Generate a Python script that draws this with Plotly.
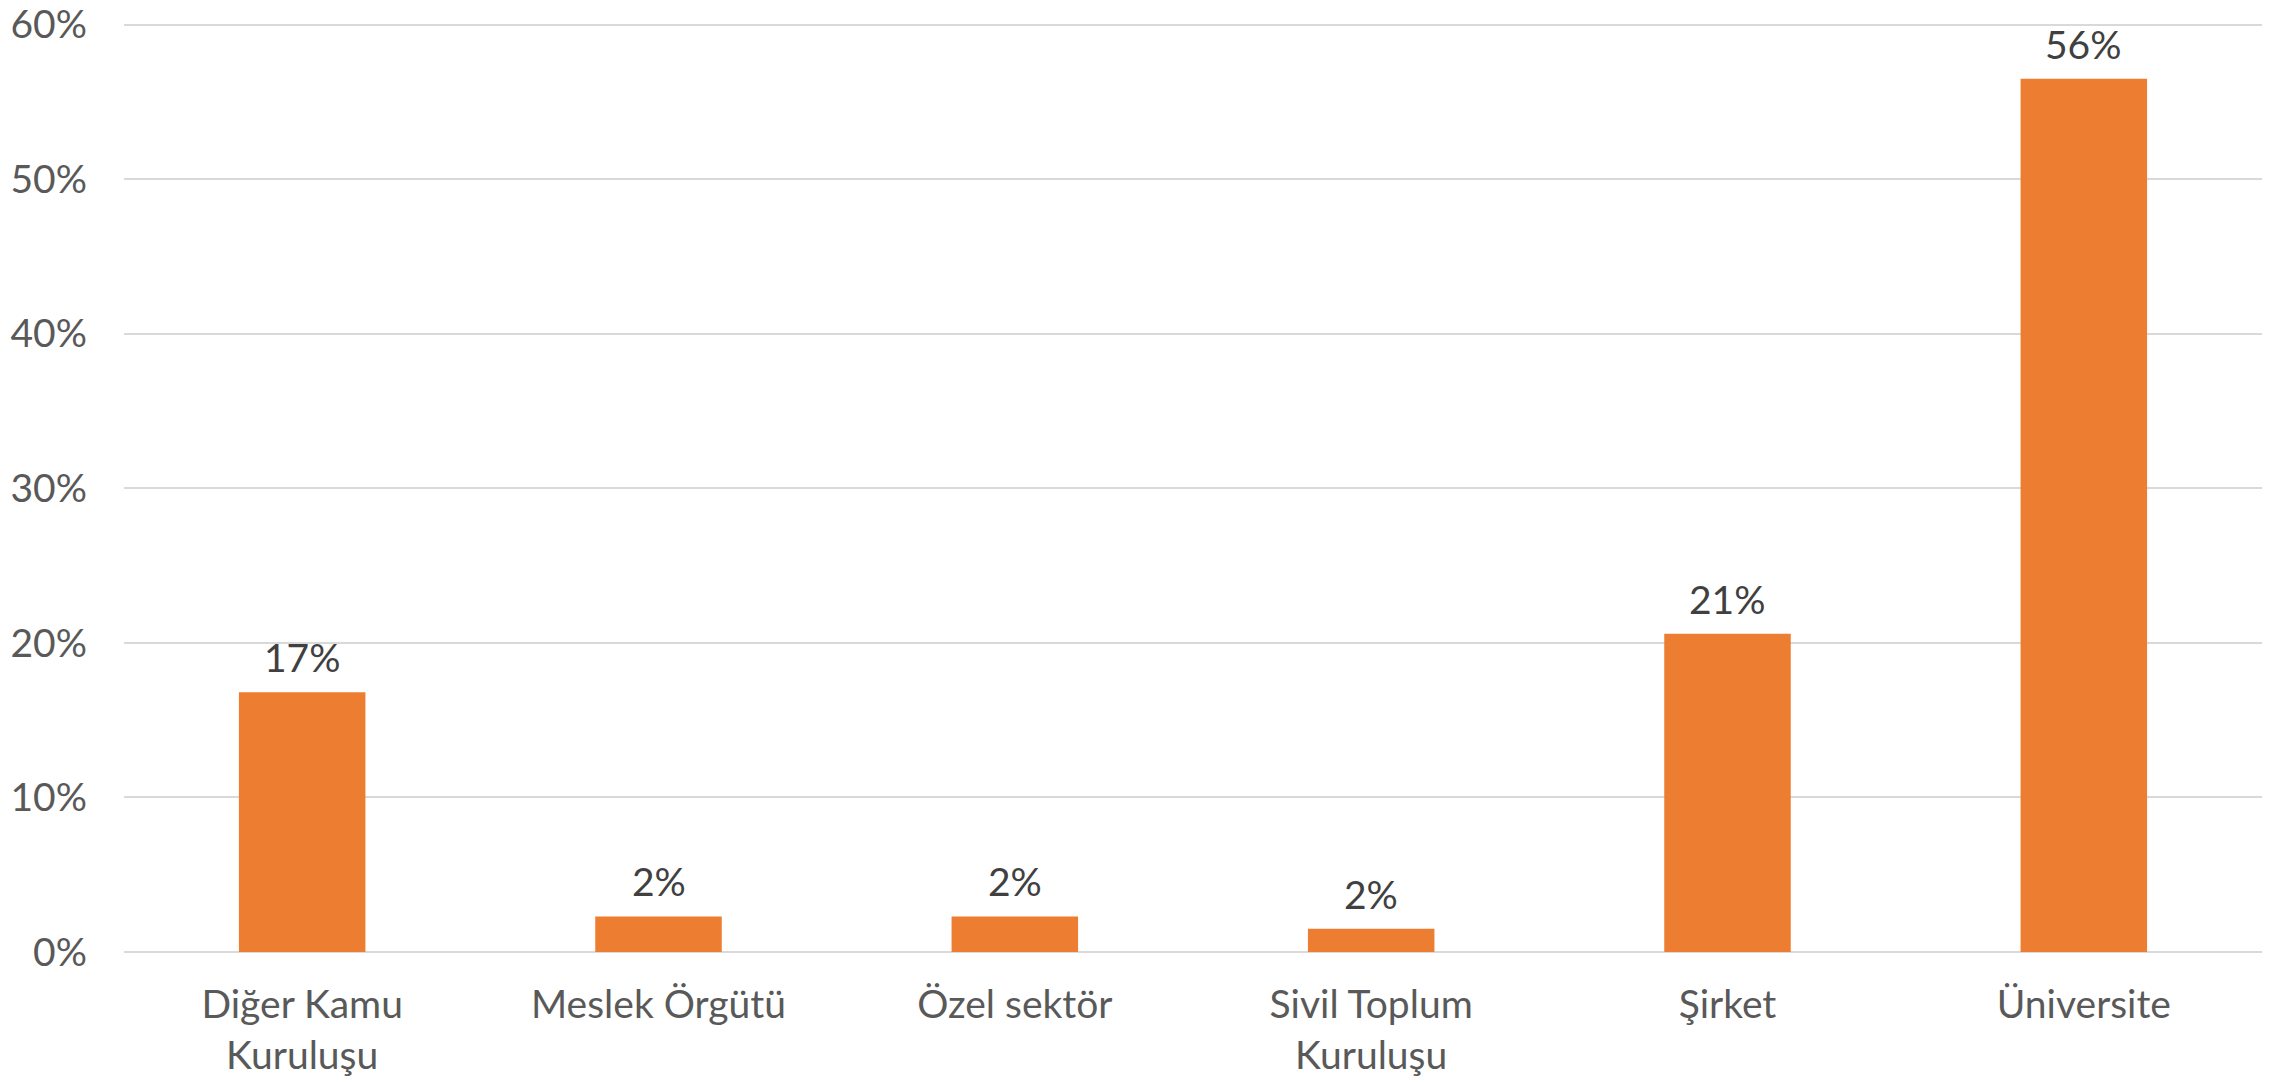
import plotly.graph_objects as go

categories = ["Diğer Kamu<br>Kuruluşu", "Meslek Örgütü", "Özel sektör",
              "Sivil Toplum<br>Kuruluşu", "Şirket", "Üniversite"]
values = [0.168, 0.023, 0.023, 0.015, 0.206, 0.565]
labels = ["17%", "2%", "2%", "2%", "21%", "56%"]

fnt = "Lato, 'Open Sans', sans-serif"

fig = go.Figure(go.Bar(
    x=categories, y=values,
    marker=dict(color="#ED7D31", line=dict(width=0)),
    width=0.355,
))

for c, v, t in zip(categories, values, labels):
    fig.add_annotation(x=c, y=v, text=t, showarrow=False,
                       yanchor="bottom", yshift=10,
                       font=dict(family=fnt, size=39, color="#404040"))

fig.update_layout(
    width=2282, height=1083,
    margin=dict(l=124, r=20, t=17, b=131),
    plot_bgcolor="white", paper_bgcolor="white",
    showlegend=False,
    font=dict(family=fnt, size=39, color="#595959"),
)
fig.update_yaxes(range=[0, 0.605], tickvals=[0, 0.1, 0.2, 0.3, 0.4, 0.5, 0.6],
                 tickformat=".0%", automargin=False, ticklabeloverflow="allow",
                 gridcolor="#D9D9D9", gridwidth=2,
                 zeroline=True, zerolinecolor="#D9D9D9", zerolinewidth=2,
                 showline=False, ticks="", ticklabelstandoff=36,
                 tickfont=dict(family=fnt, size=39, color="#595959"))
fig.update_xaxes(showline=False, ticks="", ticklabelstandoff=26, automargin=False,
                 tickfont=dict(family=fnt, size=39, color="#595959"))

# drop the browser's default body margin so the figure sits at the page corner
fig.write_html("out.html", config={"displayModeBar": False},
               post_script="document.body.style.margin='0';")
